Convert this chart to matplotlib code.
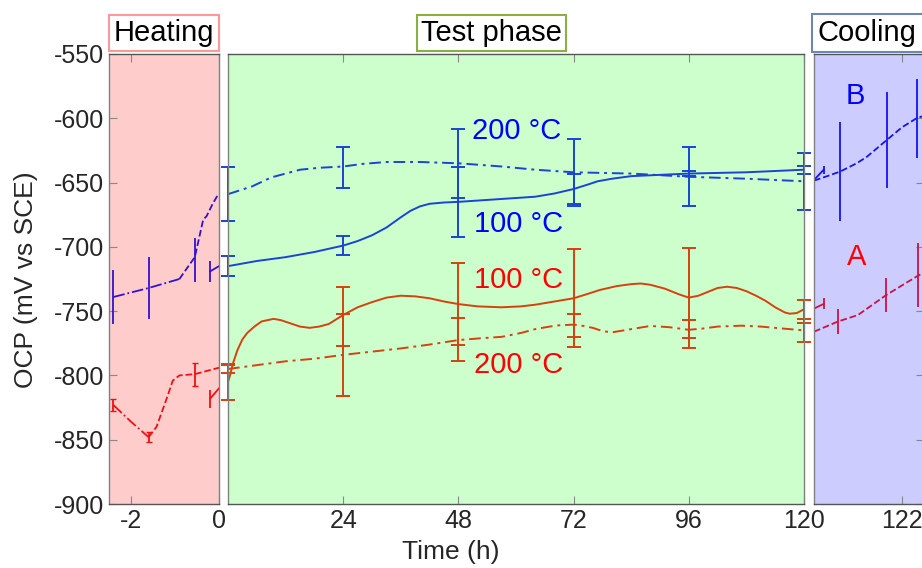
import matplotlib
matplotlib.use("Agg")
import matplotlib.pyplot as plt
from matplotlib.patches import Rectangle

plt.rcParams['font.family'] = ['Liberation Sans', 'DejaVu Sans']
plt.rcParams['axes.unicode_minus'] = False

# ---------------- data ----------------
# heating phase (h before test start)
heat_b_dd_h = [-2.4, -1.6, -0.9]
heat_b_dd_v = [-739, -732, -725]
heat_b_da_h = [-0.9, -0.55, -0.36, -0.28, -0.15, -0.05, 0]
heat_b_da_v = [-725, -708, -679, -676, -667, -661, -659]
heat_b_err_h = [-2.4, -1.6, -0.55]
heat_b_err_v = [-739, -732, -710]
heat_b_err_e = [21, 24, 17]
heat_b_short_h = [-0.2, 0]
heat_b_short_v = [-719, -715]

heat_r_dd_h = [-2.4, -2.0, -1.6]
heat_r_dd_v = [-823, -836, -848]
heat_r_da_h = [-1.6, -1.42, -1.2, -1.05, -0.9, -0.55, 0]
heat_r_da_v = [-848, -840, -819, -804, -800, -799, -794]
heat_r_err_h = [-2.4, -1.6, -0.55]
heat_r_err_v = [-823, -848, -799]
heat_r_err_e = [5, 4, 9]
heat_r_short_h = [-0.2, 0]
heat_r_short_v = [-818, -810]

# test phase
b100_h = [0, 6, 12, 18, 24, 27, 30, 33, 36, 38, 40, 42, 45, 48, 52, 58, 64, 68,
          72, 75, 77, 80, 84, 90, 96, 108, 120]
b100_v = [-715, -711, -708, -704, -699, -695.5, -691, -685, -677, -672, -668.5,
          -666.5, -665.5, -665, -664, -662.5, -661, -658.5, -655, -651.5, -649,
          -647, -645, -644, -643, -642, -640]
b200_h = [0, 2.5, 5, 7, 9, 12, 15, 19, 24, 28, 33, 40, 48, 57, 64, 72, 78, 84,
          96, 108, 120]
b200_v = [-659, -656, -653, -649.5, -646, -643, -640, -638.5, -637.5, -635.5,
          -634, -634, -635, -637.5, -640, -642, -642.5, -643, -645.5, -647, -649]
r100_h = [0, 0.5, 1, 2, 3, 4, 5.5, 7, 9.5, 11, 13, 15, 17, 19, 21, 24, 27, 30,
          33, 36, 39, 42, 45, 48, 52, 57, 61, 64, 68, 72, 75, 77.5, 81, 84, 86,
          88, 91, 94, 96, 98, 100, 102, 104, 106, 108, 110, 112, 114, 116, 117,
          118.5, 120]
r100_v = [-805, -799, -791, -780, -772, -767, -762, -758, -756, -757, -759.5,
          -762, -763, -762, -760, -753, -747, -743, -739.5, -738, -738.5, -740,
          -742.5, -744.5, -746.3, -747, -746.3, -745, -742.5, -740, -736.5,
          -733.5, -730.5, -729, -728.5, -729.5, -732.5, -737, -739.5, -738, -735,
          -732, -731, -732, -734.5, -738, -742, -747, -751, -752, -751.5, -748.5]
r200_h = [0, 6, 12, 18, 24, 30, 36, 42, 48, 53, 57, 61, 64, 67, 69, 72, 74, 76,
          78, 80, 84, 88, 92, 96, 99, 102, 107, 111, 114, 117, 120]
r200_v = [-795, -792, -789, -787, -784, -781.5, -779, -776, -772.5, -771, -770,
          -767, -764, -762, -761, -760.5, -761.5, -763, -765.5, -766.5, -764,
          -761.5, -762.5, -764.5, -763.5, -762, -761.3, -762, -763, -764, -765]

err_h = [0, 24, 48, 72, 96, 120]
b100_err_v = [-715, -699, -665, -655, -643, -640]
b100_err_e = [8, 7.5, 27, 12, 2, 3]
b200_err_v = [-659, -638, -635, -642, -645, -649]
b200_err_e = [21, 16, 27, 26, 23, 22]
r100_err_v = [-805, -754, -744.5, -740, -740, -750]
r100_err_e = [14, 23, 32, 38, 39, 9]
r200_err_v = [-795, -784, -772, -761, -764, -765]
r200_err_e = [3, 32, 17, 9, 7, 9]

# cooling phase (h)
cool_b_h = [120, 120.3, 120.59, 120.97, 121.2, 121.65, 122.0, 122.33, 122.5]
cool_b_v = [-648.5, -645, -641.5, -635, -630, -617, -607, -600, -598]
cool_b_err_h = [120, 120.59, 121.65, 122.35]
cool_b_err_v = [-649, -641.5, -617, -600]
cool_b_err_e = [22, 38.5, 37.6, 30.6]
cool_b_short_h = [120, 120.22]
cool_b_short_v = [-648, -640]

cool_r_h = [120, 120.55, 121.0, 121.64, 122.36, 122.5]
cool_r_v = [-766, -758, -753, -737.5, -722.5, -720]
cool_r_err_h = [120, 120.55, 121.64, 122.36]
cool_r_err_v = [-757, -758, -737.5, -722]
cool_r_err_e = [17, 10, 13, 25]
cool_r_short_h = [120, 120.22]
cool_r_short_v = [-748, -744.4]

yticks = [-900, -850, -800, -750, -700, -650, -600, -550]

# ---------------- colours ----------------
c_heat_b = '#3311CC'
c_heat_r = '#EE1111'
c_test_b = '#1A44D4'
c_test_r = '#D4420E'
c_cool_b = '#1414EE'
c_cool_r = '#CC1144'

fig = plt.figure(figsize=(9.22, 5.68), dpi=100)
W, H = 922.0, 568.0
bot = (H - 504) / H
hgt = 450 / H

ax_h = fig.add_axes([109 / W, bot, 110 / W, hgt], facecolor='#FFCCCC')
ax_t = fig.add_axes([228 / W, bot, 576 / W, hgt], facecolor='#CCFFCC')
ax_c = fig.add_axes([814 / W, bot, 110 / W, hgt], facecolor='#CCCCFF')

for ax in (ax_h, ax_t, ax_c):
    ax.set_ylim(-900, -550)
    ax.set_yticks(yticks)
    for s in ax.spines.values():
        s.set_color('#808080')
        s.set_linewidth(1.0)
    ax.spines['bottom'].set_color('#555555')
    ax.spines['top'].set_color('#555555')
    ax.tick_params(direction='in', length=6, color='#888888', labelsize=18,
                   labelcolor='#262626', top=True)

# heating
ax_h.set_xlim(-2.5, 0)
ax_h.set_xticks([-2, 0])
ax_h.set_xticklabels(['-2', '0'])
ax_h.tick_params(axis='y', left=True, right=False)
ax_h.plot(heat_b_dd_h, heat_b_dd_v, '-.', color=c_heat_b, lw=1.3)
ax_h.plot(heat_b_da_h, heat_b_da_v, '--', color=c_heat_b, lw=1.3)
ax_h.plot(heat_b_short_h, heat_b_short_v, '-', color=c_heat_b, lw=1.3)
ax_h.errorbar(heat_b_err_h, heat_b_err_v, yerr=heat_b_err_e, fmt='none',
              ecolor=c_heat_b, elinewidth=1.3, capsize=0)
ax_h.errorbar([heat_b_short_h[0]], [heat_b_short_v[0]], yerr=[8], fmt='none',
              ecolor=c_heat_b, elinewidth=1.3, capsize=0)
ax_h.plot(heat_r_dd_h, heat_r_dd_v, '-.', color=c_heat_r, lw=1.3)
ax_h.plot(heat_r_da_h, heat_r_da_v, '--', color=c_heat_r, lw=1.3)
ax_h.plot(heat_r_short_h, heat_r_short_v, '-', color=c_heat_r, lw=1.3)
ax_h.errorbar(heat_r_err_h, heat_r_err_v, yerr=heat_r_err_e, fmt='none',
              ecolor=c_heat_r, elinewidth=1.3, capsize=2)
ax_h.errorbar([heat_r_short_h[0]], [heat_r_short_v[0]], yerr=[7], fmt='none',
              ecolor=c_heat_r, elinewidth=1.3, capsize=0)

# test phase
ax_t.set_xlim(0, 120)
ax_t.set_xticks([24, 48, 72, 96, 120])
ax_t.tick_params(axis='y', left=False, right=False, labelleft=False)
ax_t.plot(b100_h, b100_v, '-', color=c_test_b, lw=1.4)
ax_t.plot(b200_h, b200_v, '-.', color=c_test_b, lw=1.4, dashes=(6, 2.5, 1.5, 2.5))
ax_t.plot(r100_h, r100_v, '-', color=c_test_r, lw=1.4)
ax_t.plot(r200_h, r200_v, '-.', color=c_test_r, lw=1.4, dashes=(6, 2.5, 1.5, 2.5))
for v, e, c in ((b100_err_v, b100_err_e, c_test_b), (b200_err_v, b200_err_e, c_test_b),
                (r100_err_v, r100_err_e, c_test_r), (r200_err_v, r200_err_e, c_test_r)):
    eb = ax_t.errorbar(err_h, v, yerr=e, fmt='none', ecolor=c, elinewidth=1.4,
                       capsize=5, capthick=1.4)
    for art in eb.lines[1] + eb.lines[2]:
        art.set_clip_on(False)

ax_t.text(50.8, -610, '200 °C', color='#0000FF', fontsize=21, va='center')
ax_t.text(51.2, -682, '100 °C', color='#0000FF', fontsize=21, va='center')
ax_t.text(51.2, -726, '100 °C', color='#FF0000', fontsize=21, va='center')
ax_t.text(51.2, -792, '200 °C', color='#FF0000', fontsize=21, va='center')

# cooling
ax_c.set_xlim(120, 122.5)
ax_c.set_xticks([122])
ax_c.tick_params(axis='y', left=False, right=True, labelleft=False)
ax_c.plot(cool_b_h, cool_b_v, '--', color=c_cool_b, lw=1.3)
ax_c.plot(cool_b_short_h, cool_b_short_v, '-', color=c_cool_b, lw=1.3)
ax_c.errorbar(cool_b_err_h, cool_b_err_v, yerr=cool_b_err_e, fmt='none',
              ecolor=c_cool_b, elinewidth=1.3, capsize=0)
ax_c.errorbar([cool_b_short_h[1]], [cool_b_short_v[1]], yerr=[3], fmt='none',
              ecolor=c_cool_b, elinewidth=1.3, capsize=0)
ax_c.plot(cool_r_h, cool_r_v, '--', color=c_cool_r, lw=1.3)
ax_c.plot(cool_r_short_h, cool_r_short_v, '-', color=c_cool_r, lw=1.3)
ax_c.errorbar(cool_r_err_h, cool_r_err_v, yerr=cool_r_err_e, fmt='none',
              ecolor=c_cool_r, elinewidth=1.3, capsize=0)
ax_c.errorbar([cool_r_short_h[1]], [cool_r_short_v[1]], yerr=[4.3], fmt='none',
              ecolor=c_cool_r, elinewidth=1.3, capsize=0)
ax_c.text(120.95, -583, 'B', color='#0000FF', fontsize=21, ha='center', va='center')
ax_c.text(120.97, -708, 'A', color='#FF0000', fontsize=21, ha='center', va='center')

# phase labels
fig.text(164 / W, 1 - 33 / H, 'Heating', fontsize=21, ha='center', va='center',
         bbox=dict(boxstyle='square,pad=0.15', fc='white', ec='#FF9999', lw=1.5))
fig.text(491.5 / W, 1 - 33 / H, 'Test phase', fontsize=21, ha='center', va='center',
         bbox=dict(boxstyle='square,pad=0.15', fc='white', ec='#8AB040', lw=1.5))
fig.patches.append(Rectangle((812 / W, 1 - 52 / H), 130 / W, 38 / H,
                             transform=fig.transFigure, fc='white', ec='#6F87B0',
                             lw=1.5))
fig.text(817 / W, 1 - 33 / H, 'Cooling', fontsize=21, ha='left', va='center')

fig.text(451 / W, 1 - 552 / H, 'Time (h)', fontsize=19, color='#262626',
         ha='center', va='center')
fig.text(26 / W, 1 - 280 / H, 'OCP (mV vs SCE)', fontsize=19, color='#262626',
         ha='center', va='center', rotation=90)

fig.savefig('out.png', dpi=100)
